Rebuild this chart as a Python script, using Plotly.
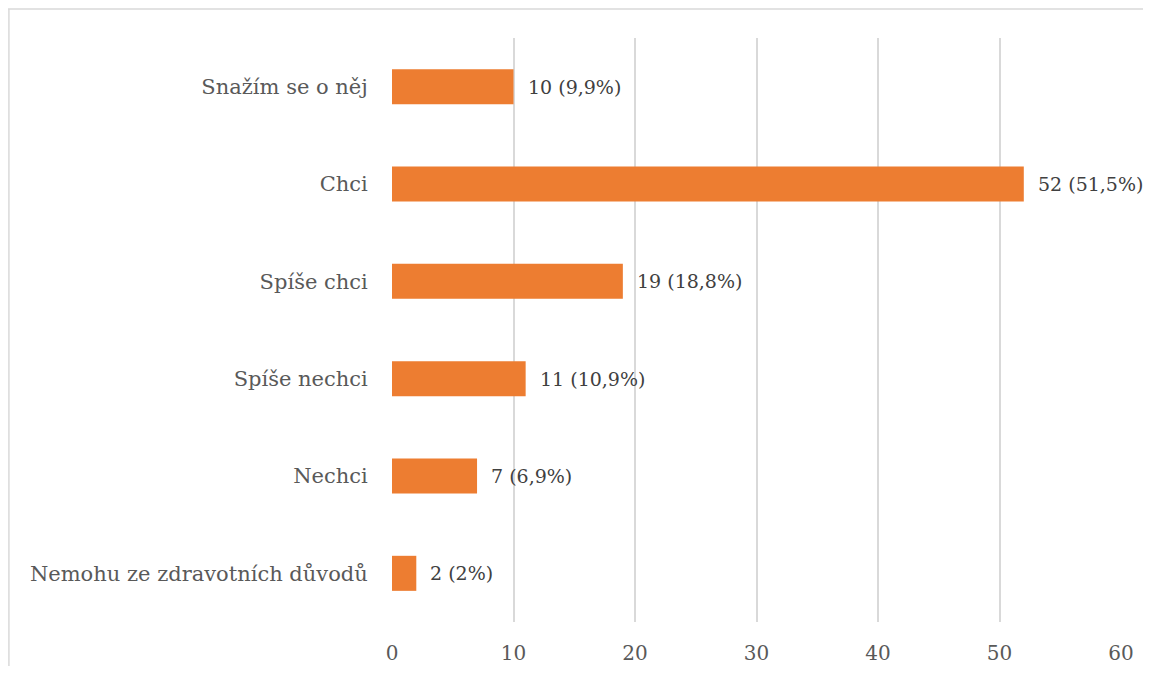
import plotly.graph_objects as go

categories = ["Nemohu ze zdravotních důvodů", "Nechci", "Spíše nechci",
              "Spíše chci", "Chci", "Snažím se o něj"]
counts = [2, 7, 11, 19, 52, 10]
labels = ["2 (2%)", "7 (6,9%)", "11 (10,9%)", "19 (18,8%)", "52 (51,5%)", "10 (9,9%)"]
x_ticks = [0, 10, 20, 30, 40, 50, 60]

ORANGE = "#ED7D31"
GRID = "#D9D9D9"
FONT = "DejaVu Serif"

fig = go.Figure()

fig.add_trace(
    go.Bar(
        x=counts,
        y=categories,
        orientation="h",
        marker=dict(color=ORANGE, line=dict(width=0)),
        hoverinfo="skip",
    )
)

for c, v, t in zip(categories, counts, labels):
    fig.add_annotation(
        x=v, y=c, text=t, showarrow=False,
        xanchor="left", xshift=12,
        font=dict(family=FONT, size=19, color="#404040"),
    )

# outer chart border (top and left edges visible)
fig.add_shape(type="line", xref="paper", yref="paper",
              x0=-0.527, x1=1.1, y0=1.0497, y1=1.0497,
              line=dict(color=GRID, width=1.5))
fig.add_shape(type="line", xref="paper", yref="paper",
              x0=-0.5255, x1=-0.5255, y0=1.0497, y1=-0.2,
              line=dict(color=GRID, width=1.5))

fig.update_layout(
    width=1135,
    height=658,
    margin=dict(l=384, r=22, t=30, b=44),
    paper_bgcolor="white",
    plot_bgcolor="white",
    showlegend=False,
    bargap=0.64,
    font=dict(family=FONT, size=19, color="#595959"),
    xaxis=dict(
        range=[0, 60],
        tickvals=x_ticks,
        showgrid=True,
        gridcolor=GRID,
        gridwidth=1.5,
        zeroline=False,
        showline=False,
        automargin=False,
        ticks="outside",
        ticklen=13,
        tickcolor="rgba(0,0,0,0)",
        tickfont=dict(family=FONT, size=20, color="#595959"),
    ),
    yaxis=dict(
        categoryorder="array",
        categoryarray=categories,
        showgrid=False,
        zeroline=False,
        showline=False,
        automargin=False,
        ticks="outside",
        ticklen=19,
        tickcolor="rgba(0,0,0,0)",
        tickfont=dict(family=FONT, size=21, color="#595959"),
    ),
)

fig.write_html("out.html")
